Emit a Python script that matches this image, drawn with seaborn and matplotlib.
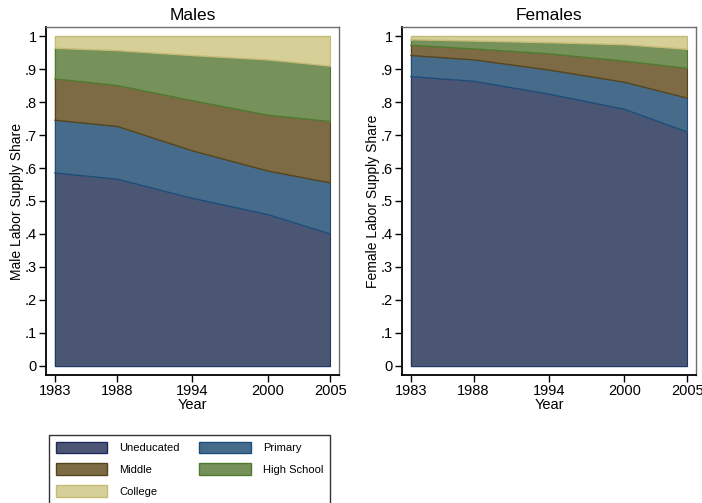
import numpy as np
import pandas as pd
import seaborn as sns
import matplotlib.pyplot as plt
from matplotlib.patches import Patch

years = [1983, 1988, 1994, 2000, 2005]
groups = ["Uneducated", "Primary", "Middle", "High School", "College"]

# shares of each education group
male_unedu = [0.585, 0.566, 0.508, 0.459, 0.400]
male_prim = [0.160, 0.160, 0.144, 0.132, 0.155]
male_mid = [0.125, 0.124, 0.152, 0.169, 0.186]
male_hs = [0.093, 0.106, 0.137, 0.168, 0.168]
male_coll = [0.037, 0.044, 0.059, 0.072, 0.091]

fem_unedu = [0.877, 0.863, 0.824, 0.778, 0.709]
fem_prim = [0.064, 0.065, 0.073, 0.082, 0.103]
fem_mid = [0.031, 0.033, 0.049, 0.064, 0.090]
fem_hs = [0.017, 0.024, 0.034, 0.050, 0.058]
fem_coll = [0.011, 0.015, 0.020, 0.026, 0.040]

fills = ["#4b5675", "#476b8b", "#7d6b46", "#76915a", "#d6cf98"]
edges = ["#1d3866", "#1c4d7a", "#54451c", "#4e7a2e", "#c6bb75"]

sns.set_style("ticks")
plt.rcParams['font.family'] = ['Liberation Sans', 'DejaVu Sans']
plt.rcParams['text.color'] = 'black'
plt.rcParams['axes.labelcolor'] = 'black'
plt.rcParams['xtick.color'] = 'black'
plt.rcParams['ytick.color'] = 'black'

fig = plt.figure(figsize=(7.02, 5.03), dpi=100)
W, H = 702, 503
ax1 = fig.add_axes([46 / W, 1 - 375 / H, 293 / W, 348 / H])
ax2 = fig.add_axes([402 / W, 1 - 375 / H, 294 / W, 348 / H])

panels = [
    (ax1, "Males", "Male Labor Supply Share", [male_unedu, male_prim, male_mid, male_hs, male_coll]),
    (ax2, "Females", "Female Labor Supply Share", [fem_unedu, fem_prim, fem_mid, fem_hs, fem_coll]),
]

for ax, title, ylab, shares in panels:
    df = pd.DataFrame(dict(zip(groups, shares)), index=years)
    cum = df.cumsum(axis=1)
    bottom = np.zeros(len(years))
    for i, g in enumerate(groups):
        top = cum[g].values
        ax.fill_between(years, bottom, top, facecolor=fills[i], edgecolor="none", zorder=2 + i)
        # lower boundary of each layer takes that layer's outline colour
        sns.lineplot(x=years, y=bottom, color=edges[i], lw=1.0, ax=ax, zorder=2.5 + i)
        ax.plot([years[0], years[0]], [bottom[0], top[0]], color=edges[i], lw=0.8, zorder=2.5 + i)
        ax.plot([years[-1], years[-1]], [bottom[-1], top[-1]], color=edges[i], lw=0.8, zorder=2.5 + i)
        bottom = top
    sns.lineplot(x=years, y=bottom, color=edges[-1], lw=1.0, ax=ax, zorder=8)

    ax.set_xlim(1982.3, 2005.7)
    ax.set_ylim(-0.0275, 1.0275)
    ax.set_xticks(years)
    ax.set_xticklabels([str(y) for y in years], fontsize=10.5)
    yt = np.round(np.arange(0, 1.01, 0.1), 1)
    ax.set_yticks(yt)
    ax.set_yticklabels(["0"] + ["." + str(int(round(v * 10))) for v in yt[1:-1]] + ["1"], fontsize=10.5)
    ax.tick_params(direction="out", length=5, width=1, color="black", pad=1.5)
    ax.set_title(title, fontsize=12.5, pad=5)
    ax.set_xlabel("Year", fontsize=10.5, labelpad=0)
    ax.set_ylabel(ylab, fontsize=10, labelpad=0.5)
    for s in ["left", "bottom"]:
        ax.spines[s].set_color("black")
        ax.spines[s].set_linewidth(1.3)
    for s in ["top", "right"]:
        ax.spines[s].set_color("#6e6e6e")
        ax.spines[s].set_linewidth(1.0)

legend_edges = ["#1e2c58", "#1c4d7a", "#54451c", "#4e7a2e", "#c6bb75"]
handles = [Patch(facecolor=fills[i], edgecolor=legend_edges[i], lw=1.0, label=groups[i]) for i in range(5)]
# matplotlib fills legend columns first; reorder so rows read as in the original
order = [0, 2, 4, 1, 3]
leg = fig.legend(handles=[handles[i] for i in order], loc="upper left",
                 bbox_to_anchor=(49 / W, 1 - 435 / H),
                 ncol=2, fontsize=8, frameon=True, fancybox=False, edgecolor="black",
                 handlelength=4.6, handleheight=1.25, handletextpad=1.1, columnspacing=1.8,
                 labelspacing=0.9, borderpad=0.6, borderaxespad=0)
leg.get_frame().set_linewidth(1.0)

fig.savefig("out.png", dpi=100)
